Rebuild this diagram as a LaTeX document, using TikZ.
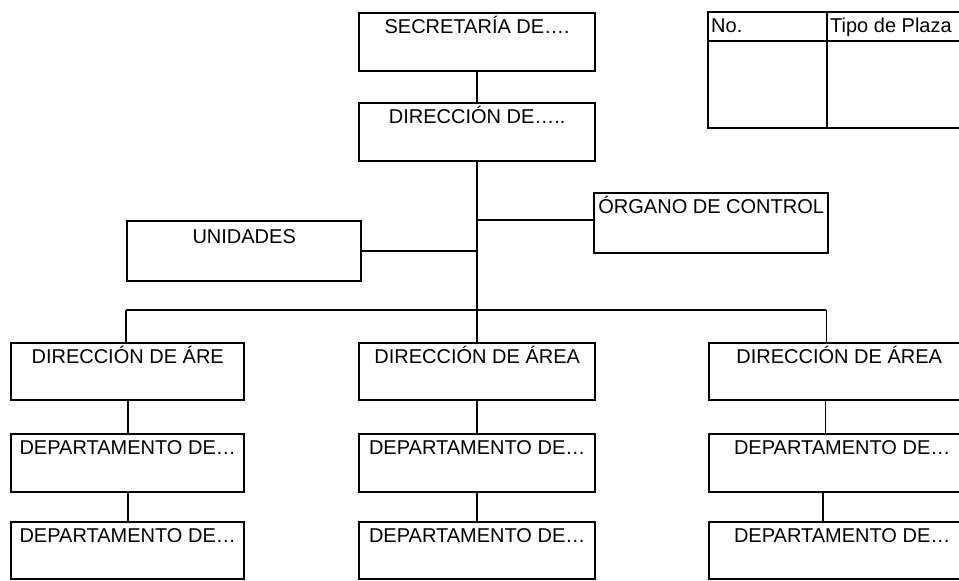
\documentclass[tikz,border=0pt]{standalone}
\usepackage{fontspec}
\setmainfont{Liberation Sans}
\begin{document}
\begin{tikzpicture}[x=1pt,y=-1pt,
  orgbox/.style={draw, line width=2.4pt, inner sep=0pt, anchor=north west,
    font=\fontsize{20}{24}\selectfont, text height=20pt},
  conn/.style={line width=2pt},
  thinconn/.style={line width=1pt},
  celltext/.style={anchor=base west, inner sep=0pt, font=\fontsize{20}{24}\selectfont}]
\useasboundingbox (0,0) rectangle (959,581);
\clip (0,0) rectangle (959,581);
% top boxes
\node[orgbox, minimum width=236pt, text depth=38pt] (sec) at (358,12) {SECRETARÍA DE\ldots.};
\node[orgbox, minimum width=236pt, text depth=38pt] (dir) at (358,102) {DIRECCIÓN DE\ldots..};
\node[orgbox, minimum width=234pt, text depth=38pt, text height=22pt] (unid) at (126,220) {UNIDADES};
\node[orgbox, minimum width=234pt, text depth=40pt] (org) at (593,192) {ÓRGANO DE CONTROL};
% area level
\node[orgbox, minimum width=233pt, text depth=37pt] (dirA1) at (10,342) {DIRECCIÓN DE ÁRE};
\node[orgbox, minimum width=236pt, text depth=37pt] (dirA2) at (358,342) {DIRECCIÓN DE ÁREA};
\node[orgbox, minimum width=260pt, text depth=37pt] (dirA3) at (708,342) {DIRECCIÓN DE ÁREA};
% departments
\node[orgbox, minimum width=233pt, text depth=38pt] (dep11) at (10,433) {DEPARTAMENTO DE\ldots};
\node[orgbox, minimum width=236pt, text depth=38pt] (dep12) at (358,433) {DEPARTAMENTO DE\ldots};
\node[orgbox, minimum width=266pt, text depth=38pt] (dep13) at (708,433) {DEPARTAMENTO DE\ldots};
\node[orgbox, minimum width=233pt, text depth=37pt] (dep21) at (10,521) {DEPARTAMENTO DE\ldots};
\node[orgbox, minimum width=236pt, text depth=37pt] (dep22) at (358,521) {DEPARTAMENTO DE\ldots};
\node[orgbox, minimum width=266pt, text depth=37pt] (dep23) at (708,521) {DEPARTAMENTO DE\ldots};
% connectors
\coordinate (busL) at (126,310);
\coordinate (busR) at (826,310);
\coordinate (busM) at (dir.south |- busL);
\draw[conn] (sec.south) -- (dir.north);
\draw[conn] (dir.south) -- (busM);
\draw[conn] (busL) -- (busR);
\draw[conn] (unid.east) -- (unid.east -| dir.south);
\draw[conn] ([yshift=3pt]org.west -| dir.south) -- ([yshift=3pt]org.west);
\draw[conn] (busL) -- (busL |- dirA1.north);
\draw[conn] (busM) -- (busM |- dirA2.north);
\draw[thinconn] (busR) -- (busR |- dirA3.north);
\draw[conn] (dirA1.south) -- (dep11.north);
\draw[conn] (dep11.south) -- (dep21.north);
\draw[conn] (dirA2.south) -- (dep12.north);
\draw[conn] (dep12.south) -- (dep22.north);
\coordinate (c3) at (825,400);
\draw[thinconn] (c3 |- dirA3.south) -- (c3 |- dep13.north);
\draw[conn] ([xshift=-2pt]c3 |- dep13.south) -- ([xshift=-2pt]c3 |- dep23.north);
% table
\draw[line width=2.4pt] (708,12) rectangle (990,128);
\draw[line width=2.4pt] (708,41) -- (990,41);
\draw[line width=2.4pt] (827,12) -- (827,128);
\node[celltext] (hno) at (711,32) {No.};
\node[celltext] (htipo) at (830,32) {Tipo de Plaza};
\end{tikzpicture}
\end{document}
